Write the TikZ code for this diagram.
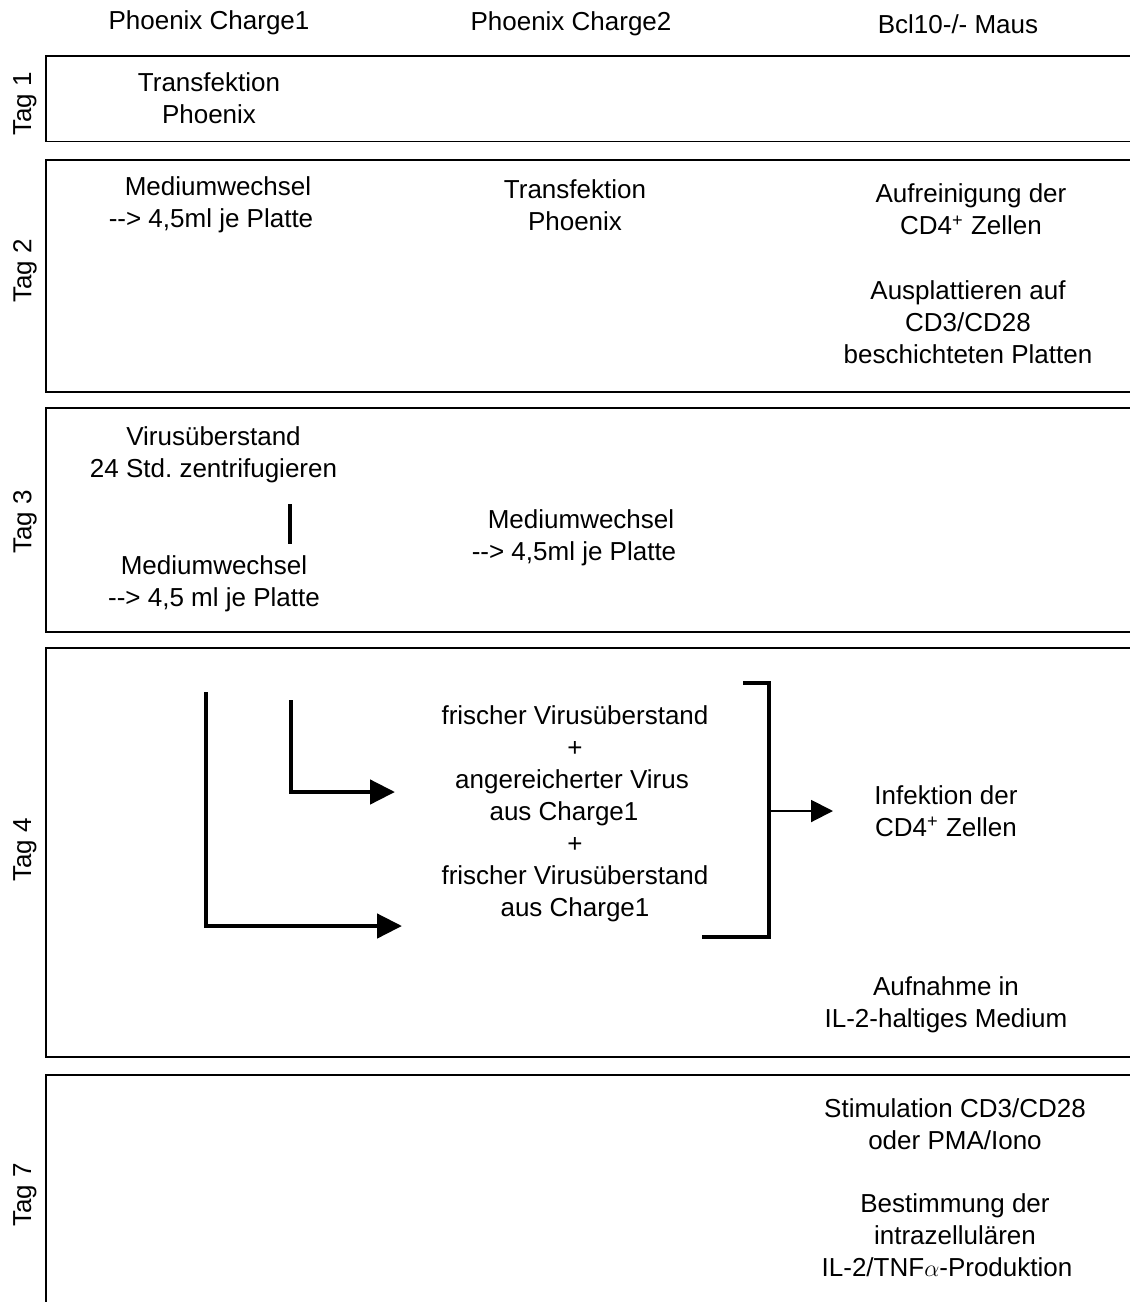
\documentclass[tikz,border=0pt]{standalone}
\usepackage{fontspec}
\setmainfont{Liberation Sans}
\usetikzlibrary{arrows.meta}
\begin{document}
\frenchspacing
\begin{tikzpicture}[x=0.5pt,y=-0.5pt,
  txt/.style={align=center, inner sep=0pt, font=\fontsize{13}{16}\selectfont},
  taglabel/.style={rotate=90, inner sep=0pt, font=\fontsize{13}{16}\selectfont},
  daybox/.style={line width=0.85pt, line join=miter},
  flowline/.style={line width=2.3pt, line join=miter},
  flowarrow/.style={flowline, -{Triangle[length=12.5pt,width=12pt]}},
  bracketline/.style={line width=1.6pt, line join=miter},
  smallarrow/.style={line width=1pt, -{Triangle[length=11pt,width=11pt]}}]
\useasboundingbox (0,0) rectangle (1130,1302);

% column headers
\node[txt, anchor=base] (h1) at (209,29) {Phoenix Charge1};
\node[txt, anchor=base] (h2) at (571,30) {Phoenix Charge2};
\node[txt, anchor=base] (h3) at (958,33) {Bcl10-/- Maus};

% day frames (open to the right)
\draw[daybox] (1135,56) -- (46,56) -- (46,141.5) -- (1135,141.5);
\draw[daybox] (1135,160) -- (46,160) -- (46,392) -- (1135,392);
\draw[daybox] (1135,408) -- (46,408) -- (46,632) -- (1135,632);
\draw[daybox] (1135,648) -- (46,648) -- (46,1057) -- (1135,1057);
\draw[daybox] (1135,1075) -- (46,1075) -- (46,1310);

% day labels
\node[taglabel] (t1) at (25,104) {Tag 1};
\node[taglabel] (t2) at (25,271) {Tag 2};
\node[taglabel] (t3) at (25,522) {Tag 3};
\node[taglabel] (t4) at (25,850) {Tag 4};
\node[taglabel] (t7) at (25,1195) {Tag 7};

% Tag 1
\node[txt] (d1a) at (209,98.7) {Transfektion\\Phoenix};

% Tag 2
\node[txt] (d2a) at (211,204.5) {\makebox[7pt]{}Mediumwechsel\\-{}-> 4,5ml je Platte};
\node[txt] (d2b) at (575,205.7) {Transfektion\\Phoenix};
\node[txt] (d2c) at (971,209.7) {Aufreinigung der\\CD4\textsuperscript{+} Zellen};
\node[txt] (d2d) at (968,321.7) {Ausplattieren auf\\CD3/CD28\\beschichteten Platten};

% Tag 3
\node[txt] (d3a) at (213.5,454.5) {Virusüberstand\\24 Std. zentrifugieren};
\node[txt] (d3b) at (214,583.5) {Mediumwechsel\\-{}-> 4,5 ml je Platte};
\coordinate (bar1) at (290,504);
\coordinate (bar2) at (290,544);
\draw[flowline] (bar1) -- (bar2);
\node[txt] (d3c) at (574,537.5) {\makebox[7pt]{}Mediumwechsel\\-{}-> 4,5ml je Platte};

% Tag 4
\node[txt] (mix) at (575,813.5) {frischer Virusüberstand\\+\\angereicherter Virus\makebox[3pt]{}\\aus Charge1\makebox[11pt]{}\\+\\frischer Virusüberstand\\aus Charge1};
\coordinate (a1s) at (206,692);
\coordinate (a1c) at (206,926);
\coordinate (a1e) at (402,926);
\draw[flowarrow] (a1s) -- (a1c) -- (a1e);
\coordinate (a2s) at (291,700);
\coordinate (a2c) at (291,792);
\coordinate (a2e) at (395,792);
\draw[flowarrow] (a2s) -- (a2c) -- (a2e);
\coordinate (bt) at (743,683);
\coordinate (btr) at (769,683);
\coordinate (bbr) at (769,937);
\coordinate (bb) at (702,937);
\draw[bracketline] (bt) -- (btr) -- (bbr) -- (bb);
\coordinate (bm) at (769,811);
\coordinate (bmend) at (833,811);
\draw[smallarrow] (bm) -- (bmend);
\node[txt] (inf) at (946,810.7) {Infektion der\\CD4\textsuperscript{+} Zellen};
\node[txt] (auf) at (946,1005) {Aufnahme in\\IL-2-haltiges Medium};

% Tag 7
\node[txt] (d7a) at (955,1123.7) {Stimulation CD3/CD28\\oder PMA/Iono};
\node[txt] (d7b) at (955,1234.7) {Bestimmung der\\intrazellulären\\IL-2/TNF$\alpha$-Produktion\makebox[8pt]{}};
\end{tikzpicture}
\end{document}
